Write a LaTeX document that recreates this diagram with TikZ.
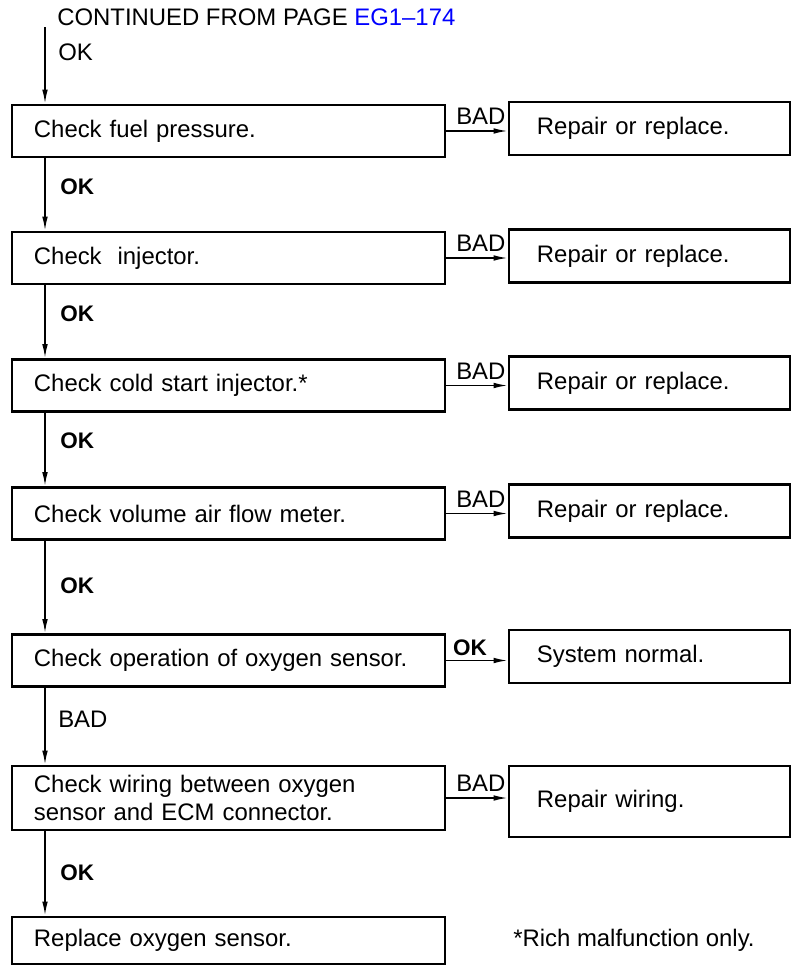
\documentclass[tikz,border=0pt]{standalone}
\usepackage{fontspec}
\setmainfont{Liberation Sans}
\usetikzlibrary{arrows.meta,positioning,calc}

\begin{document}
\begin{tikzpicture}[
    x=0.025cm, y=-0.025cm,
    font=\fontsize{17}{19.5}\selectfont,
    % Style definitions
    check/.style={rectangle, draw, line width=1.9pt, minimum width=10.825cm, minimum height=1.3cm, text width=9.725cm, inner xsep=0.55cm, align=left},
    result/.style={rectangle, draw, line width=1.9pt, minimum width=7.025cm, minimum height=1.33cm, text width=5.625cm, inner xsep=0.7cm, align=left},
    arrow/.style={-{Latex[length=10pt,width=4pt]}, line width=1.1pt},
    side/.style={anchor=south east, inner xsep=1pt, inner ysep=0.14cm},
    flow/.style={anchor=west, inner sep=0pt},
    okbold/.style={font=\fontsize{16}{18}\selectfont\bfseries}
]
\useasboundingbox (0,0) rectangle (793,973);

% Entry
\node[anchor=base west, inner sep=0pt] (cont) at (57,25) {CONTINUED FROM PAGE \textcolor{blue}{EG1--174}};
\coordinate (start) at (45,27);
\node[flow] (ok0) at (58,52) {OK};

% Checks (left column)
\node[check] (fuel) at (228.5,131) {Check fuel pressure.};
\node[check] (inj) at (228.5,258) {Check\ \ injector.};
\node[check] (cold) at (228.5,385.5) {Check cold start injector.*};
\node[check] (vaf) at (228.5,513.5) {Check volume air flow meter.};
\node[check] (oxop) at (228.5,660.5) {Check operation of oxygen sensor.};
\node[check, minimum height=1.6cm] (wire) at (228.5,798) {Check wiring between oxygen\\sensor and ECM connector.};
\node[check, minimum height=1.18cm] (repl) at (228.5,940.5) {Replace oxygen sensor.};

% Results (right column)
\node[result] (fix1) at (649.5,128.5) {Repair or replace.};
\node[result] (fix2) at (649.5,256) {Repair or replace.};
\node[result] (fix3) at (649.5,383) {Repair or replace.};
\node[result] (fix4) at (649.5,511) {Repair or replace.};
\node[result] (normal) at (649.5,656.5) {System normal.};
\node[result, minimum height=1.78cm] (fixw) at (649.5,801.5) {Repair wiring.};

% Note
\node[flow] (note) at (513,940) {*Rich malfunction only.};

% Main flow
\draw[arrow] (start) -- (start |- fuel.north);
\draw[arrow] (start |- fuel.south) -- (start |- inj.north);
\draw[arrow] (start |- inj.south) -- (start |- cold.north);
\draw[arrow] (start |- cold.south) -- (start |- vaf.north);
\draw[arrow] (start |- vaf.south) -- (start |- oxop.north);
\draw[arrow] (start |- oxop.south) -- (start |- wire.north);
\draw[arrow] (start |- wire.south) -- (start |- repl.north);

\node[flow, okbold] (ok1) at (60,187) {OK};
\node[flow, okbold] (ok2) at (60,314) {OK};
\node[flow, okbold] (ok3) at (60,441) {OK};
\node[flow, okbold] (ok4) at (60,586) {OK};
\node[flow] (bad5) at (58,719) {BAD};
\node[flow, okbold] (ok6) at (60,873) {OK};

% Branches
\draw[arrow] (fuel.east) -- (fuel.east -| fix1.west) node[side] {BAD};
\draw[arrow] (inj.east) -- (inj.east -| fix2.west) node[side] {BAD};
\draw[arrow] (cold.east) -- (cold.east -| fix3.west) node[side] {BAD};
\draw[arrow] (vaf.east) -- (vaf.east -| fix4.west) node[side] {BAD};
\draw[arrow] (oxop.east) -- (oxop.east -| normal.west) node[pos=0, anchor=south west, inner xsep=0.15cm, inner ysep=0.1cm, okbold] {OK};
\draw[arrow] (wire.east) -- (wire.east -| fixw.west) node[side] {BAD};

\end{tikzpicture}
\end{document}
